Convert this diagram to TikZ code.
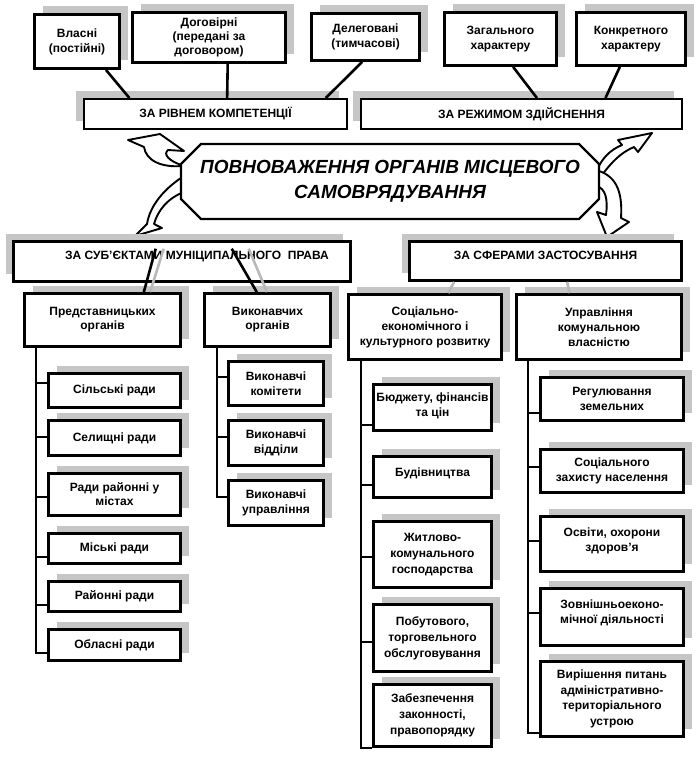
\documentclass[tikz,border=0pt]{standalone}
\usepackage{fontspec}
\setmainfont{Liberation Sans}
\usetikzlibrary{calc,shadows}
\begin{document}
\begin{tikzpicture}[x=1pt,y=-1pt,
  shd/.style={drop shadow={shadow xshift=8pt,shadow yshift=8pt,fill=gray!45,opacity=1}},
  shdl/.style={drop shadow={shadow xshift=-8pt,shadow yshift=8pt,fill=gray!45,opacity=1}},
  bx/.style={draw,line width=2.8pt,fill=white,align=center,inner sep=1pt,
    font=\bfseries\fontsize{12}{15}\selectfont,shd},
  bxl/.style={draw,line width=1.8pt,fill=white,align=center,inner sep=1pt,
    font=\bfseries\fontsize{12}{15}\selectfont,shdl},
  con/.style={line width=2.6pt},
  gcon/.style={line width=2.6pt,gray!55},
  tree/.style={line width=1.8pt},
  barrow/.style={draw,line width=1.9pt,fill=white,line join=round},
]
\useasboundingbox (0,0) rectangle (696,760);

% top row
\node[bx,minimum width=85pt,minimum height=54pt] (vl) at (77,41.5) {Власні\\(постійні)};
\node[bx,minimum width=153pt,minimum height=50pt,font=\bfseries\fontsize{12}{14}\selectfont] (dog) at (209,37.5) {Договірні\\(передані за\\договором)};
\node[bx,minimum width=108pt,minimum height=47pt] (del) at (365.5,37) {Делеговані\\(тимчасові)};
\node[bx,minimum width=112pt,minimum height=53pt] (zag) at (500.5,39) {Загального\\характеру};
\node[bx,minimum width=109pt,minimum height=53pt] (kon) at (631,39) {Конкретного\\характеру};

% second row
\node[bxl,minimum width=263pt,minimum height=30pt] (riv) at (215.5,114) {ЗА РІВНЕМ КОМПЕТЕНЦІЇ};
\node[bxl,minimum width=321pt,minimum height=30pt] (rez) at (521.5,114) {ЗА РЕЖИМОМ ЗДІЙСНЕННЯ};

\draw[con] ($(vl.south west)!0.83!(vl.south east)$) -- ($(riv.north west)!0.175!(riv.north east)$);
\draw[con] ($(dog.south west)!0.62!(dog.south east)$) -- ($(riv.north west)!0.544!(riv.north east)$);
\draw[con] ($(del.south west)!0.47!(del.south east)$) -- ($(riv.north west)!0.916!(riv.north east)$);
\draw[con] ($(zag.south west)!0.61!(zag.south east)$) -- ($(rez.north west)!0.548!(rez.north east)$);
\draw[con] ($(kon.south west)!0.40!(kon.south east)$) -- ($(rez.north west)!0.76!(rez.north east)$);

% curved block arrows
\draw[barrow] (128,140) -- (160,134) -- (184,151) -- (168,150)
  .. controls (163,154) and (168,161) .. (184,166)
  .. controls (160,168) and (146,160) .. (144,147) -- cycle;
\draw[barrow] (184,176) .. controls (165,188) and (150,205) .. (147,224)
  -- (135,236) -- (162,228) -- (154,224)
  .. controls (158,210) and (168,198) .. (184,192) -- cycle;
\draw[barrow] (596,172) .. controls (602,158) and (610,150) .. (622,145)
  -- (618,140) -- (652,133) -- (638,152) -- (634,147)
  .. controls (622,152) and (610,162) .. (596,184) -- cycle;
\draw[barrow] (596,170) .. controls (614,175) and (623,188) .. (621,218)
  -- (629,222) -- (607,237) -- (597,212) -- (606,215)
  .. controls (608,200) and (606,188) .. (596,186) -- cycle;

% central octagon
\draw[line width=2.2pt,fill=white] (201,144) -- (579,144) -- (599,164) -- (599,199)
  -- (579,219) -- (201,219) -- (181,199) -- (181,164) -- cycle;
\node[align=center,font=\bfseries\itshape\fontsize{19}{25}\selectfont] (title) at (390,181.5)
  {ПОВНОВАЖЕННЯ ОРГАНІВ МІСЦЕВОГО\\САМОВРЯДУВАННЯ};

% third row
\node[bxl,line width=2.6pt,minimum width=337pt,minimum height=40pt,text depth=12pt] (sub) at (182,261.5)
  {\hspace*{30pt}ЗА СУБ’ЄКТАМИ МУНІЦИПАЛЬНОГО\ \ ПРАВА};
\node[bxl,line width=2.6pt,minimum width=272pt,minimum height=39pt,text depth=12pt] (sfer) at (545.5,261)
  {ЗА СФЕРАМИ ЗАСТОСУВАННЯ};

% fourth row
\node[bx,minimum width=156pt,minimum height=53pt,font=\bfseries\fontsize{12}{14}\selectfont] (pred) at (102.5,320) {Представницьких\\органів};
\node[bx,minimum width=126pt,minimum height=53pt,font=\bfseries\fontsize{12}{14}\selectfont] (vyk) at (267.5,320) {Виконавчих\\органів};
\node[bx,minimum width=153pt,minimum height=65pt] (soc) at (425,327) {Соціально-\\економічного і\\культурного розвитку};
\node[bx,minimum width=165pt,minimum height=65pt] (upr) at (599,327) {Управління\\комунальною\\власністю};

\draw[gcon] ($(sub.north west)+(151.5,8.5)$) -- ($(pred.north west)!0.80!(pred.north east)$);
\draw[con] ($(sub.north west)+(143.5,8.5)$) -- ($(pred.north west)!0.76!(pred.north east)$);
\draw[gcon] ($(sub.north west)+(236.5,8.5)$) -- ($(vyk.north west)!0.496!(vyk.north east)$);
\draw[con] ($(sub.north west)+(219.5,8.5)$) -- ($(vyk.north west)!0.417!(vyk.north east)$);
\draw[gcon] ($(sfer.south west)!0.167!(sfer.south east)$) -- ($(soc.north west)!0.65!(soc.north east)$);
\draw[gcon] ($(sfer.south west)!0.579!(sfer.south east)$) -- ($(upr.north west)!0.324!(upr.north east)$);

% left column
\node[bx,minimum width=132pt,minimum height=34pt] (sil) at (114.5,390.5) {Сільські ради};
\node[bx,minimum width=132pt,minimum height=35pt] (sel) at (114.5,438) {Селищні ради};
\node[bx,minimum width=132pt,minimum height=42pt,font=\bfseries\fontsize{12}{14}\selectfont] (rad) at (114.5,494.5) {Ради районні у\\містах};
\node[bx,minimum width=132pt,minimum height=30pt] (mis) at (114.5,548.5) {Міські ради};
\node[bx,minimum width=132pt,minimum height=30pt] (ray) at (114.5,596.5) {Районні ради};
\node[bx,minimum width=132pt,minimum height=31pt] (obl) at (114.5,645) {Обласні ради};

% middle column
\node[bx,minimum width=95pt,minimum height=44pt] (kom) at (276,383.5) {Виконавчі\\комітети};
\node[bx,minimum width=95pt,minimum height=45pt] (vid) at (276,443) {Виконавчі\\відділи};
\node[bx,minimum width=95pt,minimum height=45pt] (uprv) at (276,503) {Виконавчі\\управління};

% social column
\node[bx,minimum width=118pt,minimum height=46pt,text depth=6pt] (bjd) at (432.5,407.5) {Бюджету, фінансів\\та цін};
\node[bx,minimum width=118pt,minimum height=41pt,text depth=10pt] (bdv) at (432.5,477) {Будівництва};
\node[bx,minimum width=118pt,minimum height=66pt,font=\bfseries\fontsize{12}{16}\selectfont] (zht) at (432.5,554.5) {Житлово-\\комунального\\господарства};
\node[bx,minimum width=118pt,minimum height=67pt,font=\bfseries\fontsize{12}{16}\selectfont] (pob) at (432.5,638) {Побутового,\\торговельного\\обслуговування};
\node[bx,minimum width=118pt,minimum height=62pt,font=\bfseries\fontsize{12}{16}\selectfont] (zab) at (432.5,715.5) {Забезпечення\\законності,\\правопорядку};

% right column
\node[bx,minimum width=143pt,minimum height=43pt] (reg) at (612,399) {Регулювання\\земельних};
\node[bx,minimum width=143pt,minimum height=43pt] (szn) at (612,471) {Соціального\\захисту населення};
\node[bx,minimum width=143pt,minimum height=55pt,text depth=8pt] (osv) at (612,544) {Освіти, охорони\\здоров’я};
\node[bx,minimum width=143pt,minimum height=57pt,text depth=10pt] (zov) at (612,617) {Зовнішньоеконо-\\мічної діяльності};
\node[bx,minimum width=143pt,minimum height=75pt,font=\bfseries\fontsize{12}{15.5}\selectfont] (vyr) at (612,699) {Вирішення питань\\адміністративно-\\територіального\\устрою};

% tree lines
\coordinate (lx) at (36,653);
\coordinate (mx) at (217,497);
\coordinate (sx) at (361,748);
\coordinate (rx) at (528,733);
\draw[tree] (pred.south -| lx) -- (lx);
\draw[tree] (vyk.south -| mx) -- (mx);
\draw[tree] (soc.south -| sx) -- (sx);
\draw[tree] (upr.south -| rx) -- (rx);

\foreach \n/\d in {sil/-7.5,sel/-1,rad/2.5,mis/8.5,ray/8.5,obl/8,bjd/17.5,bdv/8,zht/2.5,pob/4,zab/32.5,reg/14,szn/-4,osv/-3,zov/-4,vyr/34}
  \draw[tree] ($(\n.west)+(0,\d)$) -- ($(\n.west)+(-12.5,\d)$);
\foreach \n/\d in {kom/-6.5,vid/-6,uprv/-6}
  \draw[tree] ($(\n.west)+(0,\d)$) -- ($(\n.west)+(-11.5,\d)$);
\end{tikzpicture}
\end{document}
